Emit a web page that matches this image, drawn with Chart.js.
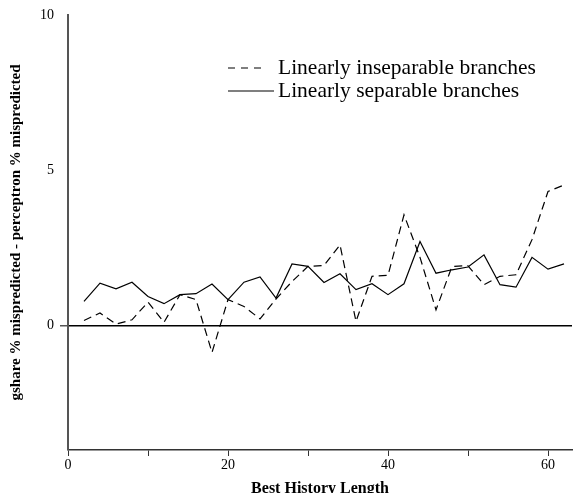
<!DOCTYPE html>
<html>
<head>
<meta charset="utf-8">
<script src="https://cdn.jsdelivr.net/npm/chart.js@4.4.1/dist/chart.umd.min.js"></script>
<style>
  html, body { margin: 0; padding: 0; background: #fff; }
  #wrap { width: 586px; height: 493px; }
</style>
</head>
<body>
<div id="wrap"><canvas id="chart" width="586" height="493"></canvas></div>
<script>
const historyLengths = [2, 4, 6, 8, 10, 12, 14, 16, 18, 20, 22, 24, 26, 28, 30, 32, 34, 36, 38, 40, 42, 44, 46, 48, 50, 52, 54, 56, 58, 60, 62];
const inseparable = [0.17, 0.41, 0.05, 0.19, 0.76, 0.11, 1.0, 0.84, -0.86, 0.84, 0.62, 0.22, 0.86, 1.42, 1.91, 1.94, 2.6, 0.14, 1.59, 1.62, 3.57, 2.2, 0.51, 1.91, 1.93, 1.32, 1.59, 1.64, 2.77, 4.32, 4.53];
const separable = [0.78, 1.37, 1.19, 1.40, 0.94, 0.71, 1.0, 1.03, 1.34, 0.84, 1.40, 1.57, 0.89, 1.99, 1.91, 1.39, 1.67, 1.16, 1.35, 1.0, 1.35, 2.71, 1.69, 1.80, 1.89, 2.28, 1.32, 1.24, 2.20, 1.82, 1.99];
const seriesNames = ["Linearly inseparable branches", "Linearly separable branches"];
const xLabels = [0, 20, 40, 60];
const yLabels = [0, 5, 10];

const serif = "'Liberation Serif', 'Times New Roman', serif";

const toPoints = ys => historyLengths.map((x, i) => ({ x: x, y: ys[i] }));

// legend drawn inside the plot, top right
const innerLegend = {
  id: 'innerLegend',
  afterDraw(chart) {
    const ctx = chart.ctx;
    const sets = chart.data.datasets;
    ctx.save();
    ctx.font = "21.5px " + serif;
    ctx.fillStyle = '#000';
    ctx.textBaseline = 'middle';
    sets.forEach((ds, i) => {
      const y = 68 + i * 23;
      const dashed = !!ds.borderDash;
      ctx.beginPath();
      ctx.strokeStyle = '#000';
      ctx.lineWidth = 1.2;
      ctx.setLineDash(dashed ? [7, 6] : []);
      ctx.moveTo(228, y);
      ctx.lineTo(dashed ? 262 : 274, y);
      ctx.stroke();
      ctx.setLineDash([]);
      ctx.fillText(ds.label, 278, y);
    });
    ctx.restore();
  }
};

new Chart(document.getElementById('chart'), {
  type: 'line',
  data: {
    datasets: [{
      label: seriesNames[0],
      data: toPoints(inseparable),
      borderColor: '#000',
      borderWidth: 1.2,
      borderDash: [8, 5],
      pointRadius: 0,
      tension: 0,
      fill: false
    }, {
      label: seriesNames[1],
      data: toPoints(separable),
      borderColor: '#000',
      borderWidth: 1.2,
      pointRadius: 0,
      tension: 0,
      fill: false
    }]
  },
  options: {
    responsive: false,
    animation: false,
    layout: { padding: { top: 15, right: 14, left: 0, bottom: 0 } },
    plugins: {
      legend: { display: false },
      tooltip: { enabled: false }
    },
    scales: {
      x: {
        type: 'linear',
        min: 0,
        max: 63,
        afterFit: s => { s.height = 43; },
        afterBuildTicks: s => { s.ticks = [0, 10, 20, 30, 40, 50, 60].map(v => ({ value: v })); },
        ticks: {
          autoSkip: false,
          maxRotation: 0,
          padding: 1,
          color: '#000',
          font: { family: serif, size: 14 },
          callback: v => xLabels.includes(v) ? String(v) : ''
        },
        grid: {
          drawOnChartArea: false,
          tickLength: 6,
          tickColor: '#333',
          tickWidth: 1
        },
        border: { color: '#333', width: 1.5 },
        title: {
          display: true,
          text: 'Best History Length',
          color: '#000',
          font: { family: serif, size: 16, weight: 'bold' },
          padding: { top: -5, bottom: -5 }
        }
      },
      y: {
        min: -4,
        max: 10,
        afterFit: s => { s.width = 68; },
        afterBuildTicks: s => {
          const t = [];
          for (let v = -4; v <= 10; v++) t.push({ value: v });
          s.ticks = t;
        },
        ticks: {
          autoSkip: false,
          padding: 6,
          color: '#000',
          font: { family: serif, size: 14 },
          callback: v => yLabels.includes(v) ? String(v) : ''
        },
        grid: {
          drawOnChartArea: true,
          tickLength: 8,
          tickColor: '#555',
          color: c => c.tick && c.tick.value === 0 ? '#000' : 'rgba(0,0,0,0)',
          lineWidth: c => c.tick && c.tick.value === 0 ? 1.5 : 0
        },
        border: { color: '#555', width: 2 },
        title: {
          display: true,
          text: 'gshare % mispredicted - perceptron % mispredicted',
          color: '#000',
          font: { family: serif, size: 15, weight: 'bold' },
          padding: { top: 7, bottom: 0 }
        }
      }
    }
  },
  plugins: [innerLegend]
});
</script>
</body>
</html>
